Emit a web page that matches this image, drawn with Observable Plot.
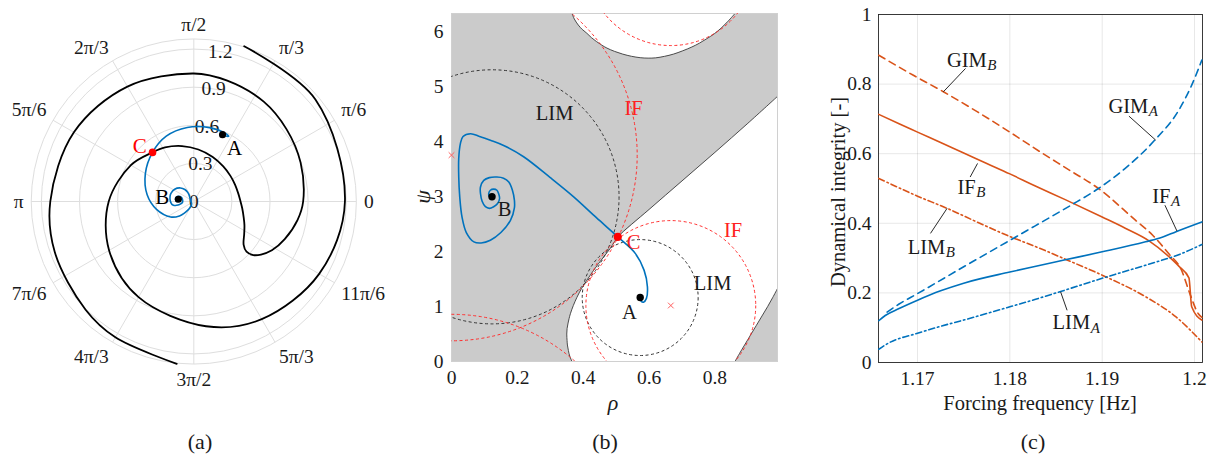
<!DOCTYPE html>
<html><head><meta charset="utf-8">
<script src="https://cdn.jsdelivr.net/npm/d3@7"></script>
<script src="https://cdn.jsdelivr.net/npm/@observablehq/plot@0.6"></script>
<style>
body{margin:0;background:#fff;font-family:"Liberation Serif",serif;color:#1a1a1a}
#root{position:relative;width:1207px;height:455px;overflow:hidden;background:#fff}
#root svg text{font-family:"Liberation Serif",serif !important}
.panel{position:absolute;top:0}
.t{position:absolute;white-space:nowrap;transform:translate(-50%,-50%);line-height:1}
</style></head><body><div id="root"></div>
<script>
// ================= DATA =================
// Panel (a): polar axes
const thetaTicks = [0,30,60,90,120,150,180,210,240,270,300,330];
const thetaTickLabels = ["0","π/6","π/3","π/2","2π/3","5π/6","π","7π/6","4π/3","3π/2","5π/3","11π/6"];
const rTicks = [0.3,0.6,0.9,1.2];
const rTickLabelValues = [0,0.3,0.6,0.9,1.2];
const rTickLabels = ["0","0.3","0.6","0.9","1.2"];
const rMax = 1.28;
// stable manifold of saddle C, [theta (deg, unwrapped), r]
const stableManifold = [
 [264,1.285],[240,1.235],[225,1.205],[200,1.165],[180,1.13],[150,1.09],[120,1.045],[90,1.008],[74.5,0.987],[55,0.96],[38,0.926],[20,0.895],[0,0.861],[-10,0.83],[-22.5,0.775],[-32,0.725],[-38.3,0.674],[-42,0.63],[-43.6,0.573],[-41,0.52],[-32.8,0.472],[-25,0.44],[-17.3,0.411],[-8,0.385],[0,0.368],[10,0.356],[22,0.351],[35,0.352],[50,0.361],[67,0.381],[85,0.411],[102,0.446],[118,0.482],[130,0.505],[150,0.572],[180,0.67],[210,0.77],[240,0.87],[275.6,0.987],[300,1.07],[330,1.14],[360,1.19],[400,1.25],[432,1.285]
];
// trajectory from A through C to B, [rho, psi]
const trajectory = [
 [0.573,1.165],[0.576,1.10],[0.583,1.08],[0.592,1.15],[0.595,1.36],[0.585,1.66],[0.558,1.97],[0.505,2.27],[0.44,2.62],[0.371,3.0],[0.3,3.35],[0.219,3.73],[0.16,3.93],[0.118,4.03],[0.085,4.1],[0.058,4.15],[0.035,4.1],[0.027,3.97],[0.022,3.7],[0.022,3.36],[0.025,3.0],[0.032,2.63],[0.045,2.35],[0.068,2.18],[0.09,2.16],[0.118,2.21],[0.15,2.35],[0.179,2.57],[0.191,2.8],[0.191,2.94],[0.185,3.12],[0.174,3.27],[0.158,3.34],[0.138,3.36],[0.115,3.35],[0.098,3.3],[0.088,3.18],[0.088,3.06],[0.093,2.92],[0.103,2.82],[0.115,2.79],[0.128,2.82],[0.14,2.88],[0.146,2.97],[0.143,3.06],[0.138,3.12],[0.128,3.14],[0.118,3.12],[0.113,3.06],[0.116,3.0],[0.123,3.0]
];
const attractors = [{name:"A",rho:0.573,psi:1.165},{name:"B",rho:0.123,psi:3.0}];
const saddle = [{name:"C",rho:0.505,psi:2.27}];
const labelsA = [{text:"A",r:0.53,t:52.8,c:"#000"},{text:"B",r:0.25,t:173,c:"#000"},{text:"C",r:0.61,t:134.3,c:"#f00"}];

// Panel (b): phase plane
const rhoDomain = [0,0.99];
const psiDomain = [0,6.34];
const xTicksB = [0,0.2,0.4,0.6,0.8];
const xTickLabelsB = ["0","0.2","0.4","0.6","0.8"];
const yTicksB = [0,1,2,3,4,5,6];
const yTickLabelsB = ["0","1","2","3","4","5","6"];
const topArc = [[0.366,6.34],[0.373,6.24],[0.385,6.13],[0.397,6.05],[0.411,5.98],[0.425,5.9],[0.44,5.83],[0.456,5.765],[0.472,5.71],[0.495,5.65],[0.52,5.6],[0.547,5.56],[0.573,5.535],[0.597,5.527],[0.62,5.532],[0.647,5.56],[0.674,5.6],[0.702,5.66],[0.73,5.73],[0.753,5.8],[0.775,5.88],[0.798,5.97],[0.82,6.08],[0.84,6.2],[0.861,6.34]];
const leftCurve = [[0.366,0],[0.359,0.1],[0.355,0.2],[0.352,0.3],[0.351,0.38],[0.35,0.5],[0.351,0.6],[0.354,0.7],[0.357,0.78],[0.361,0.87],[0.37,1.02],[0.381,1.17],[0.395,1.33],[0.411,1.48],[0.428,1.63],[0.446,1.78],[0.464,1.92],[0.482,2.06],[0.494,2.17],[0.505,2.27]];
const diagonal = [[0.505,2.27],[0.6,2.77],[0.7,3.29],[0.8,3.81],[0.9,4.34],[0.99,4.83]];
const cornerCurve = [[0.861,0],[0.875,0.15],[0.89,0.3],[0.908,0.48],[0.926,0.66],[0.943,0.83],[0.96,1.0],[0.975,1.16],[0.99,1.33]];
const limCircles = [{rho:0.573,psi:1.165,r:0.172},{rho:0.123,psi:3.0,r:0.377}];
const ifCircles = [{rho:0.666,psi:1.02,r:0.252},{rho:0.666,psi:7.303,r:0.252},{rho:0,psi:3.76,r:0.551},{rho:0,psi:-2.523,r:0.551}];
const ifCenters = [{rho:0.666,psi:1.02},{rho:0,psi:3.76}];
const labelsB = [
 {text:"LIM",rho:0.313,psi:4.52,red:false},{text:"IF",rho:0.553,psi:4.61,red:true},
 {text:"IF",rho:0.855,psi:2.39,red:true},{text:"LIM",rho:0.793,psi:1.42,red:false},
 {text:"A",rho:0.54,psi:0.9,red:false},{text:"B",rho:0.161,psi:2.77,red:false},{text:"C",rho:0.553,psi:2.17,red:true}
];

// Panel (c): dynamical integrity vs forcing frequency
const freqDomain = [1.16577,1.20087];
const xTicksC = [1.17,1.18,1.19,1.2];
const xTickLabelsC = ["1.17","1.18","1.19","1.2"];
const yTicksC = [0,0.2,0.4,0.6,0.8,1];
const yTickLabelsC = ["0","0.2","0.4","0.6","0.8","1"];
const gimB = [[1.1658,0.883],[1.1695,0.826],[1.1728,0.778],[1.1765,0.72],[1.18,0.662],[1.1833,0.605],[1.1865,0.552],[1.1896,0.50],[1.1936,0.409],[1.1955,0.365],[1.1972,0.313],[1.1986,0.265],[1.1995,0.198],[1.2004,0.141],[1.2008,0.13]];
const ifB = [[1.1658,0.713],[1.168,0.686],[1.17,0.662],[1.1725,0.632],[1.175,0.602],[1.1775,0.572],[1.18,0.542],[1.1827,0.508],[1.186,0.468],[1.19,0.418],[1.1925,0.386],[1.195,0.351],[1.1972,0.305],[1.1983,0.277],[1.1994,0.243],[1.1997,0.16],[1.2008,0.122]];
const limB = [[1.1658,0.529],[1.17,0.478],[1.1732,0.443],[1.1765,0.403],[1.18,0.362],[1.1827,0.334],[1.186,0.297],[1.19,0.251],[1.1947,0.189],[1.198,0.131],[1.2008,0.059]];
const gimA = [[1.1667,0.145],[1.168,0.168],[1.17,0.198],[1.175,0.275],[1.18,0.351],[1.1827,0.392],[1.1865,0.45],[1.1896,0.50],[1.1925,0.558],[1.1957,0.639],[1.1983,0.725],[1.1997,0.797],[1.2008,0.869]];
const ifA = [[1.1658,0.12],[1.1665,0.135],[1.168,0.155],[1.17,0.179],[1.1725,0.206],[1.175,0.228],[1.18,0.26],[1.1827,0.276],[1.186,0.295],[1.19,0.318],[1.1947,0.347],[1.1965,0.36],[1.198,0.376],[1.2008,0.404]];
const limA = [[1.1658,0.038],[1.1668,0.055],[1.17,0.084],[1.1725,0.104],[1.175,0.122],[1.18,0.16],[1.1827,0.181],[1.1855,0.204],[1.19,0.242],[1.195,0.282],[1.1985,0.312],[1.2008,0.339]];
const labelNames = ["GIM","GIM","IF","IF","LIM","LIM"];
const labelSubs = ["B","A","B","A","B","A"];
const labelF = [1.1775,1.1950,1.1763,1.1974,1.1730,1.1887];
const labelV = [0.869,0.737,0.503,0.478,0.332,0.114];
const leaders = [
 {x1:1.1752,y1:0.845,x2:1.1728,y2:0.778},{x1:1.1929,y1:0.708,x2:1.1958,y2:0.639},
 {x1:1.1757,y1:0.533,x2:1.1765,y2:0.572},{x1:1.1968,y1:0.452,x2:1.1981,y2:0.378},
 {x1:1.1714,y1:0.371,x2:1.1732,y2:0.443},{x1:1.1862,y1:0.150,x2:1.1855,y2:0.203}
];

// ================= RENDER =================
const root = document.getElementById("root");
const deg = Math.PI/180;
const BLUE = "#0072BD", ORANGE = "#D95319", GRID = "#dedede";
const baseStyle = {fontFamily:"'Liberation Serif', serif", fontSize:"19.5px", background:"transparent", color:"#1a1a1a", overflow:"visible"};
function panel(left, node){ const d=document.createElement("div"); d.className="panel"; d.style.left=left+"px"; d.appendChild(node); root.appendChild(d); }
function label(text, x, y, size, extra){ const d=document.createElement("div"); d.className="t"; d.style.left=x+"px"; d.style.top=y+"px"; d.style.fontSize=size+"px"; if(extra) Object.assign(d.style, extra); d.textContent=text; root.appendChild(d); }

// ---- (a) ----
const polX = d => d[1]*Math.cos(d[0]*deg), polY = d => d[1]*Math.sin(d[0]*deg);
const trX = d => d[0]*Math.cos(d[1]), trY = d => d[0]*Math.sin(d[1]);
const thetaData = thetaTicks.map((t,i)=>({t,label:thetaTickLabels[i]}));
const anchorOf = t => { const c=Math.cos(t*deg), s=Math.sin(t*deg); return (c>0.1?"start":c<-0.1?"end":"middle")+"|"+(s>0.1?"bottom":s<-0.1?"top":"middle"); };
const thetaLabelMarks = d3.groups(thetaData, d=>anchorOf(d.t)).map(([k,arr]) => {
  const [ta,la] = k.split("|");
  return Plot.text(arr, {x:d=>1.34*Math.cos(d.t*deg), y:d=>1.34*Math.sin(d.t*deg), text:"label", textAnchor:ta, lineAnchor:la, fontSize:19.5, fill:"#1a1a1a"});
});
const cx=193.3, cy=201, k=127, WA=400, HA=420;
const plotA = Plot.plot({
  width:WA, height:HA, marginTop:0, marginBottom:0, marginLeft:0, marginRight:0,
  style: baseStyle,
  x:{domain:[-cx/k,(WA-cx)/k], axis:null},
  y:{domain:[(cy-HA)/k, cy/k], axis:null},
  r:{type:"linear", domain:[0,1], range:[0,k]},
  marks:[
    Plot.link(thetaTicks, {x1:()=>0, y1:()=>0, x2:t=>rMax*Math.cos(t*deg), y2:t=>rMax*Math.sin(t*deg), stroke:GRID, strokeWidth:1}),
    Plot.dot([...rTicks, rMax], {x:()=>0, y:()=>0, r:d=>d, stroke:GRID, strokeWidth:1, fill:"none"}),
    Plot.text(rTickLabelValues, {x:r=>r*Math.cos(80*deg), y:r=>r*Math.sin(80*deg), text:d=>rTickLabels[rTickLabelValues.indexOf(d)], fontSize:19.5, fill:"#1a1a1a"}),
    ...thetaLabelMarks,
    Plot.line(stableManifold, {x:polX, y:polY, stroke:"#000", strokeWidth:1.8, curve:"catmull-rom"}),
    Plot.line(trajectory, {x:trX, y:trY, stroke:BLUE, strokeWidth:1.6, curve:"catmull-rom"}),
    Plot.dot(attractors, {x:d=>d.rho*Math.cos(d.psi), y:d=>d.rho*Math.sin(d.psi), r:()=>0.028, fill:"#000"}),
    Plot.dot(saddle, {x:d=>d.rho*Math.cos(d.psi), y:d=>d.rho*Math.sin(d.psi), r:()=>0.03, fill:"#f00"}),
    ...labelsA.map(l => Plot.text([l], {x:d=>d.r*Math.cos(d.t*deg), y:d=>d.r*Math.sin(d.t*deg), text:"text", fill:l.c, fontSize:21}))
  ]
});
panel(0, plotA);

// ---- (b) ----
const grayMain = [[0,0], ...leftCurve, ...diagonal.slice(1), [rhoDomain[1],psiDomain[1]], ...topArc.slice().reverse(), [0,psiDomain[1]]];
const grayCorner = [...cornerCurve, [rhoDomain[1],0]];
const P = d=>d[0], Q = d=>d[1];
const plotB = Plot.plot({
  width:400, height:420, marginLeft:51, marginRight:23, marginTop:13, marginBottom:59,
  style: baseStyle,
  x:{domain:rhoDomain, ticks:xTicksB, tickFormat:d=>xTickLabelsB[xTicksB.indexOf(d)], tickSize:0, tickPadding:9, label:null},
  y:{domain:psiDomain, ticks:yTicksB, tickFormat:d=>yTickLabelsB[yTicksB.indexOf(d)], tickSize:0, tickPadding:8, label:null},
  r:{type:"linear", domain:[0,1], range:[0,337]},
  marks:[
    Plot.line(grayMain, {x:P, y:Q, fill:"#cbcbcb", stroke:"none", clip:true}),
    Plot.line(grayCorner, {x:P, y:Q, fill:"#cbcbcb", stroke:"none", clip:true}),
    Plot.line(topArc, {x:P, y:Q, stroke:"#3a3a3a", strokeWidth:0.9, curve:"catmull-rom", clip:true}),
    Plot.line(leftCurve.concat(diagonal.slice(1)), {x:P, y:Q, stroke:"#3a3a3a", strokeWidth:0.9, curve:"catmull-rom", clip:true}),
    Plot.line(cornerCurve, {x:P, y:Q, stroke:"#3a3a3a", strokeWidth:0.9, curve:"catmull-rom", clip:true}),
    Plot.frame({stroke:"#d0d0d0", strokeWidth:1}),
    Plot.dot(limCircles, {x:"rho", y:"psi", r:"r", stroke:"#333", strokeWidth:1, strokeDasharray:"3,2.5", fill:"none", clip:true}),
    Plot.dot(ifCircles, {x:"rho", y:"psi", r:"r", stroke:"#ff3030", strokeWidth:1, strokeDasharray:"3,2.5", fill:"none", clip:true}),
    Plot.dot(ifCenters, {x:"rho", y:"psi", symbol:"times", r:()=>0.008, stroke:"#ff6060", strokeWidth:1}),
    Plot.line(trajectory, {x:P, y:Q, stroke:BLUE, strokeWidth:1.6, curve:"catmull-rom"}),
    Plot.dot(attractors, {x:"rho", y:"psi", r:()=>0.011, fill:"#000"}),
    Plot.dot(saddle, {x:"rho", y:"psi", r:()=>0.012, fill:"#f00"}),
    Plot.text(labelsB.filter(d=>!d.red), {x:"rho", y:"psi", text:"text", fill:"#1a1a1a", fontSize:20.5}),
    Plot.text(labelsB.filter(d=>d.red), {x:"rho", y:"psi", text:"text", fill:"#ff2020", fontSize:20.5})
  ]
});
panel(400, plotB);

// ---- (c) ----
const seriesStyle = [
  {data:gimB, stroke:ORANGE, dash:"7,5"},
  {data:ifB, stroke:ORANGE, dash:null},
  {data:limB, stroke:ORANGE, dash:"6,3,1.5,3"},
  {data:gimA, stroke:BLUE, dash:"7,5"},
  {data:ifA, stroke:BLUE, dash:null},
  {data:limA, stroke:BLUE, dash:"6,3,1.5,3"}
];
const labelRows = labelNames.map((n,i)=>({n, s:labelSubs[i], f:labelF[i], v:labelV[i]}));
const plotC = Plot.plot({
  width:407, height:420, marginLeft:78, marginRight:5, marginTop:14, marginBottom:58,
  style: baseStyle,
  x:{domain:freqDomain, ticks:xTicksC, tickFormat:d=>xTickLabelsC[xTicksC.indexOf(d)], grid:true, tickSize:0, tickPadding:9, label:null},
  y:{domain:[0,1], ticks:yTicksC, tickFormat:d=>yTickLabelsC[yTicksC.indexOf(d)], grid:true, tickSize:0, tickPadding:7, label:null},
  marks:[
    Plot.frame({stroke:"#262626", strokeWidth:0.9}),
    ...seriesStyle.map(s => Plot.line(s.data, {x:P, y:Q, stroke:s.stroke, strokeWidth:1.6, strokeDasharray:s.dash, curve:"monotone-x"})),
    Plot.link(leaders, {x1:"x1", y1:"y1", x2:"x2", y2:"y2", stroke:"#111", strokeWidth:0.9}),
    Plot.text(labelRows, {x:"f", y:"v", text:"n", textAnchor:"end", fontSize:20.5, fill:"#1a1a1a"}),
    Plot.text(labelRows, {x:"f", y:"v", text:"s", textAnchor:"start", dy:5, dx:0.5, fontSize:15, fontStyle:"italic", fill:"#1a1a1a"})
  ]
});
panel(800, plotC);

// axis titles & captions
label("ψ", 423, 197, 22, {fontStyle:"italic", transform:"translate(-50%,-50%) rotate(-90deg)"});
label("ρ", 613, 403, 22, {fontStyle:"italic"});
label("Dynamical integrity [-]", 838, 192, 20.5, {transform:"translate(-50%,-50%) rotate(-90deg)"});
label("Forcing frequency [Hz]", 1040, 403, 20.5);
label("(a)", 200, 442, 22);
label("(b)", 605, 442, 22);
label("(c)", 1033, 442, 22);
</script></body></html>
